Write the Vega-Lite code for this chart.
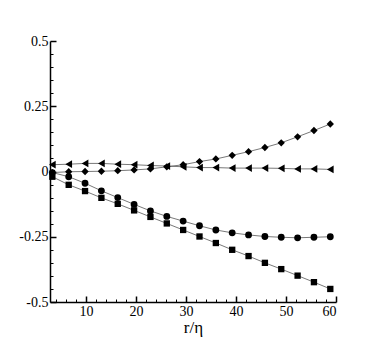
{
  "$schema": "https://vega.github.io/schema/vega-lite/v6.json",
  "width": 286,
  "height": 261,
  "autosize": {"type": "none"},
  "padding": {"left": 50, "top": 41, "right": 46, "bottom": 37},
  "background": "white",
  "config": {"view": {"stroke": null}, "font": "Liberation Serif"},
  "data": {"values": [
    {"x": 3.27, "y": -0.020, "s": "sq"}, {"x": 6.54, "y": -0.051, "s": "sq"}, {"x": 9.81, "y": -0.075, "s": "sq"}, {"x": 13.08, "y": -0.101, "s": "sq"}, {"x": 16.35, "y": -0.124, "s": "sq"}, {"x": 19.62, "y": -0.149, "s": "sq"}, {"x": 22.89, "y": -0.174, "s": "sq"}, {"x": 26.16, "y": -0.199, "s": "sq"}, {"x": 29.43, "y": -0.224, "s": "sq"}, {"x": 32.7, "y": -0.249, "s": "sq"}, {"x": 35.97, "y": -0.274, "s": "sq"}, {"x": 39.24, "y": -0.300, "s": "sq"}, {"x": 42.51, "y": -0.324, "s": "sq"}, {"x": 45.78, "y": -0.350, "s": "sq"}, {"x": 49.05, "y": -0.374, "s": "sq"}, {"x": 52.32, "y": -0.399, "s": "sq"}, {"x": 55.59, "y": -0.424, "s": "sq"}, {"x": 58.86, "y": -0.450, "s": "sq"},
    {"x": 3.27, "y": -0.004, "s": "ci"}, {"x": 6.54, "y": -0.020, "s": "ci"}, {"x": 9.81, "y": -0.045, "s": "ci"}, {"x": 13.08, "y": -0.074, "s": "ci"}, {"x": 16.35, "y": -0.100, "s": "ci"}, {"x": 19.62, "y": -0.126, "s": "ci"}, {"x": 22.89, "y": -0.151, "s": "ci"}, {"x": 26.16, "y": -0.172, "s": "ci"}, {"x": 29.43, "y": -0.190, "s": "ci"}, {"x": 32.7, "y": -0.208, "s": "ci"}, {"x": 35.97, "y": -0.224, "s": "ci"}, {"x": 39.24, "y": -0.235, "s": "ci"}, {"x": 42.51, "y": -0.243, "s": "ci"}, {"x": 45.78, "y": -0.249, "s": "ci"}, {"x": 49.05, "y": -0.252, "s": "ci"}, {"x": 52.32, "y": -0.254, "s": "ci"}, {"x": 55.59, "y": -0.252, "s": "ci"}, {"x": 58.86, "y": -0.250, "s": "ci"},
    {"x": 3.27, "y": -0.004, "s": "di"}, {"x": 6.54, "y": -0.001, "s": "di"}, {"x": 9.81, "y": 0.000, "s": "di"}, {"x": 13.08, "y": 0.001, "s": "di"}, {"x": 16.35, "y": 0.003, "s": "di"}, {"x": 19.62, "y": 0.006, "s": "di"}, {"x": 22.89, "y": 0.010, "s": "di"}, {"x": 26.16, "y": 0.018, "s": "di"}, {"x": 29.43, "y": 0.026, "s": "di"}, {"x": 32.7, "y": 0.038, "s": "di"}, {"x": 35.97, "y": 0.048, "s": "di"}, {"x": 39.24, "y": 0.062, "s": "di"}, {"x": 42.51, "y": 0.076, "s": "di"}, {"x": 45.78, "y": 0.092, "s": "di"}, {"x": 49.05, "y": 0.110, "s": "di"}, {"x": 52.32, "y": 0.133, "s": "di"}, {"x": 55.59, "y": 0.157, "s": "di"}, {"x": 58.86, "y": 0.182, "s": "di"},
    {"x": 3.27, "y": 0.026, "s": "tr"}, {"x": 6.54, "y": 0.028, "s": "tr"}, {"x": 9.81, "y": 0.031, "s": "tr"}, {"x": 13.08, "y": 0.031, "s": "tr"}, {"x": 16.35, "y": 0.028, "s": "tr"}, {"x": 19.62, "y": 0.026, "s": "tr"}, {"x": 22.89, "y": 0.023, "s": "tr"}, {"x": 26.16, "y": 0.021, "s": "tr"}, {"x": 29.43, "y": 0.018, "s": "tr"}, {"x": 32.7, "y": 0.015, "s": "tr"}, {"x": 35.97, "y": 0.015, "s": "tr"}, {"x": 39.24, "y": 0.013, "s": "tr"}, {"x": 42.51, "y": 0.013, "s": "tr"}, {"x": 45.78, "y": 0.013, "s": "tr"}, {"x": 49.05, "y": 0.012, "s": "tr"}, {"x": 52.32, "y": 0.010, "s": "tr"}, {"x": 55.59, "y": 0.010, "s": "tr"}, {"x": 58.86, "y": 0.008, "s": "tr"}
  ]},
  "resolve": {"axis": {"x": "independent", "y": "independent"}},
  "layer": [
    {
      "mark": {"type": "point", "opacity": 0},
      "encoding": {
        "x": {"field": "x", "type": "quantitative", "scale": {"domain": [2.8, 60], "nice": false, "zero": false},
          "axis": {"orient": "bottom", "values": [4,6,8,12,14,16,18,22,24,26,28,32,34,36,38,42,44,46,48,52,54,56,58], "labels": false, "domain": false, "grid": false, "title": null, "tickSize": -3, "tickWidth": 1, "tickColor": "black"}},
        "y": {"field": "y", "type": "quantitative", "scale": {"domain": [-0.5, 0.5], "nice": false, "zero": false},
          "axis": {"orient": "left", "values": [-0.45,-0.4,-0.35,-0.3,-0.2,-0.15,-0.1,-0.05,0.05,0.1,0.15,0.2,0.3,0.35,0.4,0.45], "labels": false, "domain": false, "grid": false, "title": null, "tickSize": -3, "tickWidth": 1, "tickColor": "black"}}
      }
    },
    {
      "mark": {"type": "line", "color": "#555555", "strokeWidth": 0.8},
      "encoding": {
        "x": {"field": "x", "type": "quantitative",
          "axis": {"orient": "bottom", "values": [10,20,30,40,50,60], "grid": false, "title": "r/η", "titleFont": "Liberation Serif", "titleFontSize": 17, "titleFontWeight": "normal", "titleColor": "black", "titlePadding": 1, "labelFont": "Liberation Serif", "labelFontSize": 14, "labelColor": "black", "labelPadding": 8, "tickSize": -6, "tickWidth": 1.5, "tickColor": "black", "domainColor": "black", "domainWidth": 1.5}},
        "y": {"field": "y", "type": "quantitative",
          "axis": {"orient": "left", "values": [-0.5,-0.25,0,0.25,0.5], "labelExpr": "'' + datum.value", "grid": false, "title": null, "labelFont": "Liberation Serif", "labelFontSize": 14, "labelColor": "black", "labelPadding": 8, "tickSize": -6, "tickWidth": 1.5, "tickColor": "black", "domainColor": "black", "domainWidth": 1.5}},
        "detail": {"field": "s"}
      }
    },
    {
      "mark": {"type": "point", "filled": true, "opacity": 1, "color": "black"},
      "encoding": {
        "x": {"field": "x", "type": "quantitative", "axis": null},
        "y": {"field": "y", "type": "quantitative", "axis": null},
        "shape": {"field": "s", "type": "nominal", "legend": null, "scale": {"domain": ["sq", "ci", "di", "tr"], "range": ["square", "circle", "diamond", "triangle-left"]}},
        "size": {"field": "s", "type": "nominal", "legend": null, "scale": {"domain": ["sq", "ci", "di", "tr"], "range": [40, 60, 70, 50]}}
      }
    }
  ]
}
